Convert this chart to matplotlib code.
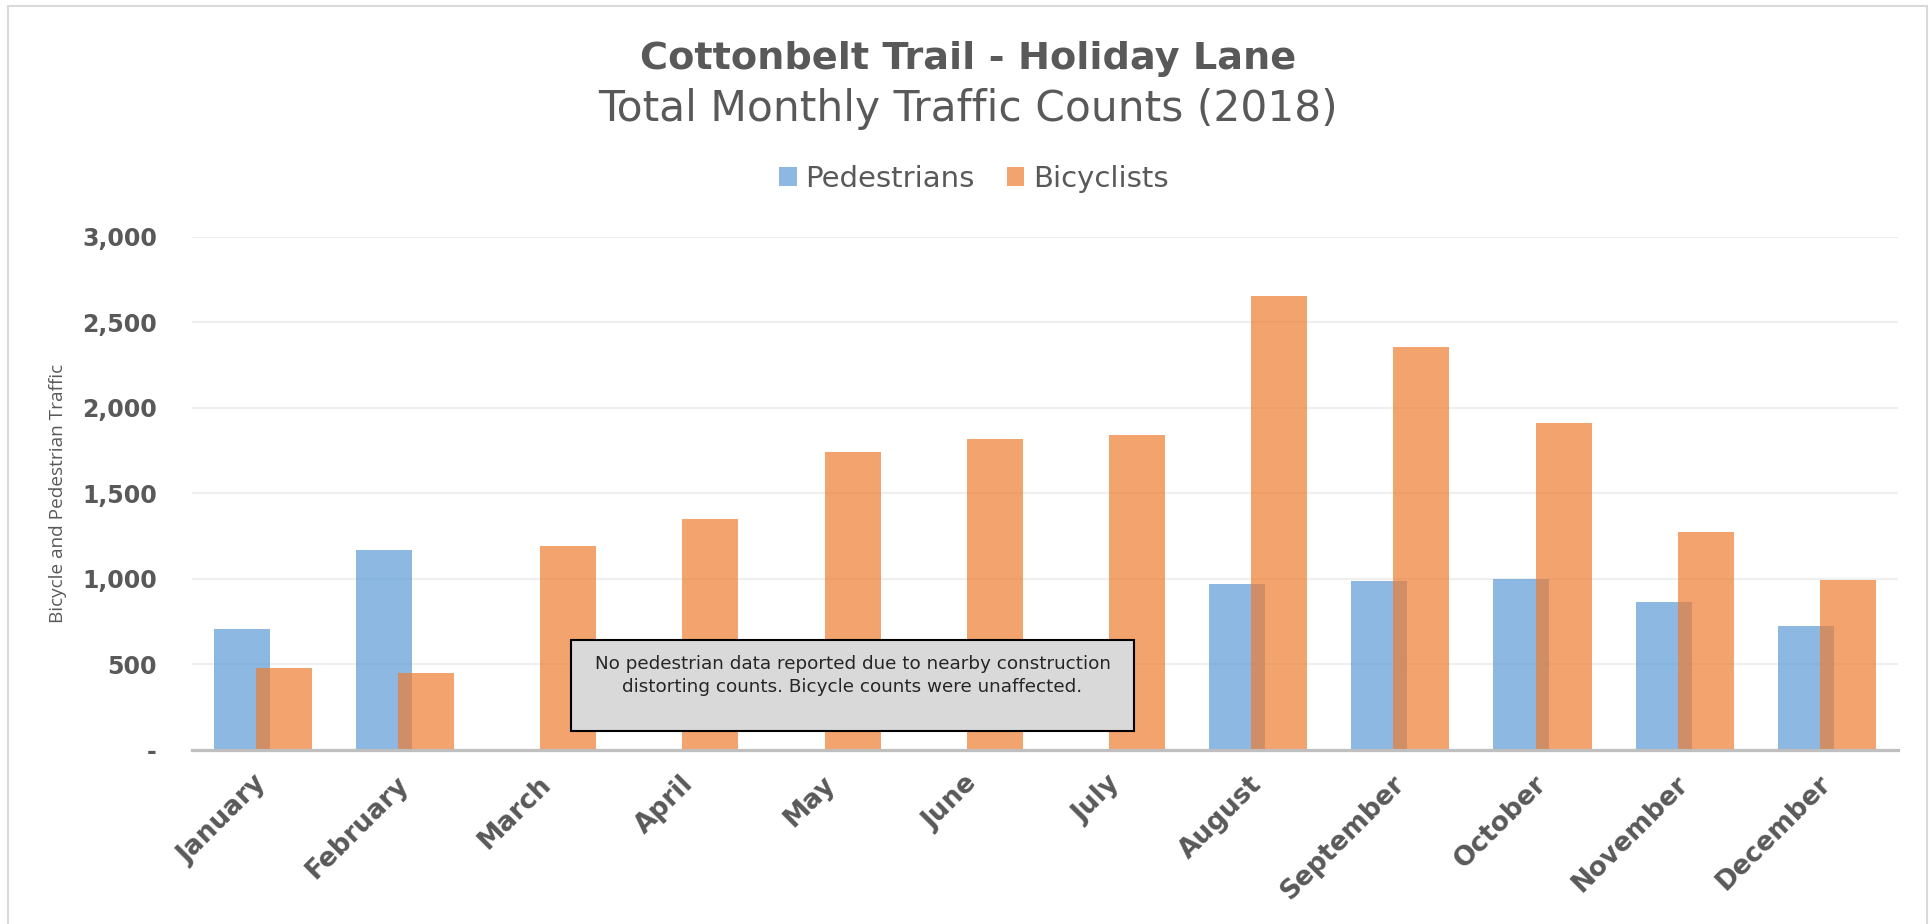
import numpy as np
import matplotlib
matplotlib.use("Agg")
import matplotlib.pyplot as plt
from matplotlib.patches import Rectangle
from matplotlib.ticker import FuncFormatter

# data
months = ["January", "February", "March", "April", "May", "June",
          "July", "August", "September", "October", "November", "December"]
pedestrians = [703, 1170, np.nan, np.nan, np.nan, np.nan, np.nan, 968, 986, 997, 863, 721]
bicyclists = [477, 447, 1192, 1350, 1740, 1817, 1840, 2655, 2355, 1908, 1274, 993]
y_ticks = [0, 500, 1000, 1500, 2000, 2500, 3000]
note = ("No pedestrian data reported due to nearby construction\n"
        "distorting counts. Bicycle counts were unaffected.")

grey = "#595959"
plt.rcParams['font.family'] = ['DejaVu Sans']

fig = plt.figure(figsize=(19.33, 9.24), dpi=100)
ax = fig.add_axes([0.09917, 0.18885, 0.88272, 0.55498])

x = np.arange(len(months))
w = 0.394
ax.bar(x - 0.148, pedestrians, w, color="#5B9BD5", alpha=0.7, label="Pedestrians", zorder=2)
ax.bar(x + 0.148, bicyclists, w, color="#ED7D31", alpha=0.7, label="Bicyclists", zorder=3)

ax.set_xlim(-0.5, len(months) - 0.5)
ax.set_ylim(0, 3000)
ax.set_yticks(y_ticks)
ax.yaxis.set_major_formatter(FuncFormatter(lambda v, p: "-" if v == 0 else f"{v:,.0f}"))
ax.grid(axis="y", color="#EFEFEF", lw=1.5, zorder=0)
ax.set_axisbelow(True)
for s in ["top", "right", "left"]:
    ax.spines[s].set_visible(False)
ax.spines["bottom"].set_color("#BFBFBF")
ax.spines["bottom"].set_linewidth(2.3)
ax.spines["bottom"].set_zorder(4)

ax.tick_params(axis="y", length=0, pad=25, labelsize=17, labelcolor=grey)
for t in ax.get_yticklabels():
    t.set_fontweight("bold")
ax.set_xticks(x)
ax.set_xticklabels(months, rotation=45, ha="right", va="center",
                   rotation_mode="anchor", fontsize=19, fontweight="bold", color=grey)
ax.tick_params(axis="x", length=0, pad=22)

ax.set_ylabel("Bicycle and Pedestrian Traffic", fontsize=13.7, color=grey, family="Open Sans")
ax.yaxis.set_label_coords(-0.0732, 0.5)

# note box
ax.add_patch(Rectangle((0.2223, 0.036), 0.330, 0.1775, transform=ax.transAxes,
                       facecolor="#D9D9D9", edgecolor="black", lw=1.5, zorder=5))
ax.text(0.3873, 0.1443, note, transform=ax.transAxes, ha="center", va="center",
        fontsize=13.2, color="#262626", linespacing=1.4, zorder=6)

fig.text(0.5008, 0.9365, "Cottonbelt Trail - Holiday Lane", ha="center", va="center",
         fontsize=27.5, fontweight="bold", color=grey)
fig.text(0.5008, 0.8822, "Total Monthly Traffic Counts (2018)", ha="center", va="center",
         fontsize=30.5, color=grey)

fig.legend(loc="center", bbox_to_anchor=(0.5039, 0.8063), ncol=2, frameon=False,
           fontsize=21, labelcolor=grey, handlelength=0.6, handleheight=0.6,
           handletextpad=0.3, columnspacing=1.1)

# chart border
fig.patches.append(Rectangle((8 / 1933, -0.02), 1919.5 / 1933, 1.02 - 5.5 / 924,
                             transform=fig.transFigure, fill=False,
                             edgecolor="#D9D9D9", lw=1.5))

fig.savefig("out.png", dpi=100)
